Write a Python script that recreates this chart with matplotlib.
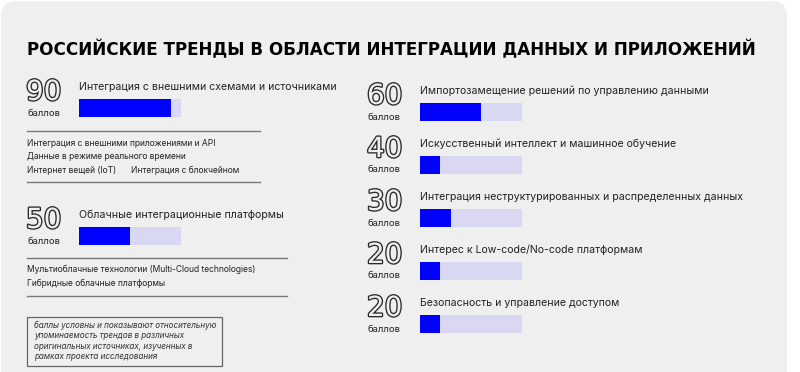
import matplotlib.pyplot as plt
import matplotlib.patheffects as pe
from matplotlib.patches import FancyBboxPatch, Rectangle

# data
title = 'РОССИЙСКИЕ ТРЕНДЫ В ОБЛАСТИ ИНТЕГРАЦИИ ДАННЫХ И ПРИЛОЖЕНИЙ'
unit = 'баллов'

left_scores = [90, 50]
left_bars = [90, 50]
left_titles = ['Интеграция с внешними схемами и источниками',
               'Облачные интеграционные платформы']
left_subitems = [
    [['Интеграция с внешними приложениями и API'],
     ['Данные в режиме реального времени'],
     ['Интернет вещей (IoT)', 'Интеграция с блокчейном']],
    [['Мультиоблачные технологии (Multi-Cloud technologies)'],
     ['Гибридные облачные платформы']],
]

right_scores = [60, 40, 30, 20, 20]
right_bars = [60, 20, 30, 20, 20]   # bar lengths as drawn in the source
right_titles = ['Импортозамещение решений по управлению данными',
                'Искусственный интеллект и машинное обучение',
                'Интеграция неструктурированных и распределенных данных',
                'Интерес к Low-code/No-code платформам',
                'Безопасность и управление доступом']

note = ('баллы условны и показывают относительную\n'
        'упоминаемость трендов в различных\n'
        'оригинальных источниках, изученных в\n'
        'рамках проекта исследования')

# layout (pixels)
W, H = 800, 372
BLUE = '#0000ff'
TRACK = '#d8d8f3'
TXT = '#222222'
FONT = 'Inter'

left_y = [80, 208]          # top of score number
right_y = [84, 137, 190, 243, 296]
left_sub_y = [[146, 159, 173], [272, 286]]   # baselines
left_lines = [(131, 182, 260), (258, 296, 287)]

fig = plt.figure(figsize=(8, 3.72), dpi=100, facecolor='white')
ax = fig.add_axes([0, 0, 1, 1])
ax.set_xlim(0, W)
ax.set_ylim(H, 0)
ax.axis('off')

ax.add_patch(FancyBboxPatch((1, 1), 786, 400, boxstyle='round,pad=0,rounding_size=16',
                            fc='#efefef', ec='none'))

ax.text(27, 50, title, fontsize=12.1, fontweight='bold', family='DejaVu Sans',
        color='black', va='center', ha='left')


def score_block(x, y, score, name, bar, xl):
    ax.text(x - 1, y + 12, str(score), fontsize=20, family='DejaVu Sans', color='#efefef',
            va='center', ha='left',
            path_effects=[pe.withStroke(linewidth=1.9, foreground='#2a2a2a')])
    ax.text(x, y + 33, unit, fontsize=6.8, family=FONT, color=TXT, va='center', ha='left')
    ax.text(xl, y + 7, name, fontsize=7.6, family=FONT, color=TXT, va='center', ha='left')
    bx = fig.add_axes([xl / W, 1 - (y + 37) / H, 102 / W, 18 / H])
    bx.set_xlim(0, 100)
    bx.set_ylim(-0.5, 0.5)
    bx.barh(0, 100, height=1, color=TRACK)
    bx.barh(0, bar, height=1, color=BLUE)
    bx.axis('off')


for i in range(len(left_scores)):
    score_block(27, left_y[i], left_scores[i], left_titles[i], left_bars[i], 79)
    y1, y2, xe = left_lines[i]
    ax.plot([27, xe], [y1, y1], color='#777777', lw=1)
    ax.plot([27, xe], [y2, y2], color='#777777', lw=1)
    for row, yy in zip(left_subitems[i], left_sub_y[i]):
        for k, s in enumerate(row):
            ax.text(27 if k == 0 else 131, yy, s, fontsize=6.1, family=FONT, color=TXT,
                    va='baseline', ha='left')

for i in range(len(right_scores)):
    score_block(368, right_y[i], right_scores[i], right_titles[i], right_bars[i], 420)

ax.add_patch(Rectangle((27, 317), 195, 49, fill=False, ec='#666666', lw=0.9))
ax.text(34, 341, note, fontsize=5.8, family=FONT, style='italic', color='#333333',
        va='center', ha='left', linespacing=1.2)

fig.savefig('out.png', dpi=100, facecolor='white')
